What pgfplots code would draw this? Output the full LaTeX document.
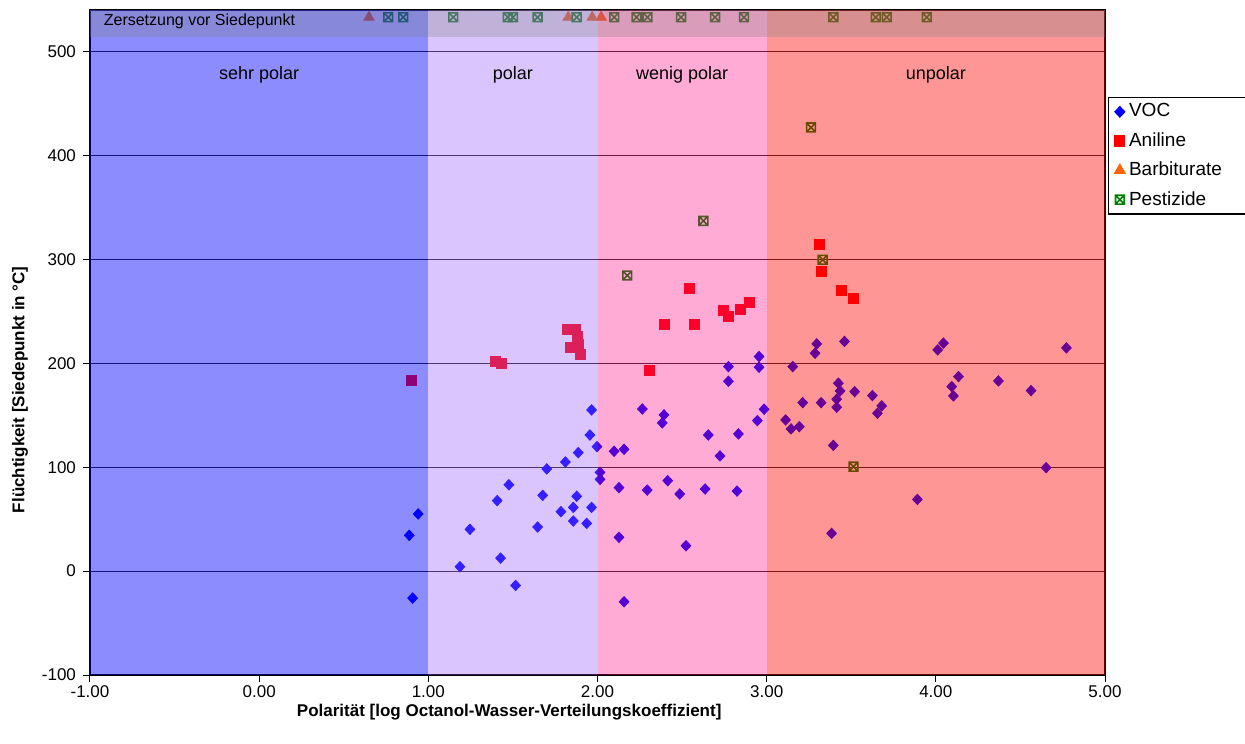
\documentclass[border=0pt]{standalone}
\usepackage{fontspec}
\setmainfont{Liberation Sans}
\usepackage{pgfplots}
\pgfplotsset{compat=1.18}

\definecolor{voc}{RGB}{0,0,255}
\definecolor{anil}{RGB}{255,0,0}
\definecolor{barb}{RGB}{255,102,0}
\definecolor{pest}{RGB}{0,128,0}
\definecolor{zsp}{RGB}{0,0,255}
\definecolor{zp}{RGB}{150,90,255}
\definecolor{zwp}{RGB}{255,0,128}
\definecolor{zup}{RGB}{255,0,0}

% square with a cross, like the Excel marker
\pgfdeclareplotmark{boxx}{%
  \pgfpathrectangle{\pgfpoint{-\pgfplotmarksize}{-\pgfplotmarksize}}{\pgfpoint{2\pgfplotmarksize}{2\pgfplotmarksize}}%
  \pgfpathmoveto{\pgfpoint{-\pgfplotmarksize}{-\pgfplotmarksize}}%
  \pgfpathlineto{\pgfpoint{\pgfplotmarksize}{\pgfplotmarksize}}%
  \pgfpathmoveto{\pgfpoint{-\pgfplotmarksize}{\pgfplotmarksize}}%
  \pgfpathlineto{\pgfpoint{\pgfplotmarksize}{-\pgfplotmarksize}}%
  \pgfusepathqstroke}

\begin{document}
\begin{tikzpicture}
\path[use as bounding box] (-45pt,-34pt) rectangle (577.5pt,337.5pt);
\begin{axis}[
  scale only axis,
  width=507.5pt, height=332.5pt,
  xmin=-1, xmax=5, ymin=-100, ymax=540,
  clip marker paths=true,
  xtick={-1,0,...,5},
  xticklabels={-1.00,0.00,1.00,2.00,3.00,4.00,5.00},
  ytick={-100,0,...,500},
  yticklabels={-100,0,100,200,300,400,500},
  tick align=outside,
  xtick pos=bottom, ytick pos=left,
  major tick length=3.5pt,
  ymajorgrids,
  grid style={black!85, line width=0.5pt},
  axis line style={black, line width=0.6pt},
  tick style={black, line width=0.5pt},
  ticklabel style={font=\fontsize{8.5}{10}\selectfont},
  xticklabel style={yshift=1.5pt},
  xlabel={Polarität [log Octanol-Wasser-Verteilungskoeffizient]},
  ylabel={Flüchtigkeit [Siedepunkt in °C]},
  label style={font=\bfseries\fontsize{8.5}{10}\selectfont},
  xlabel style={at={(axis description cs:0.413,-0.0556)}, anchor=center},
  ylabel style={at={(axis description cs:-0.069,0.429)}, anchor=center},
  legend style={at={(1.003,0.869)}, anchor=north west,
    font=\fontsize{9.5}{11}\selectfont, draw=black, line width=0.6pt,
    row sep=2.3pt, inner xsep=3pt, inner ysep=1pt,
    cells={anchor=west, text width=62pt}},
  legend cell align=left,
]
% VOC
\addplot[only marks, mark=diamond*, mark size=2.6pt, mark options={draw=voc, fill=voc, xscale=1.25}] coordinates {
(0.887,34.4) (0.94,55) (0.907,-26) (1.187,4.2) (1.246,40.2) (1.407,67.8)
(1.427,12.5) (1.476,83.1) (1.516,-13.8) (1.646,42.4) (1.676,72.9) (1.70,98.3)
(1.784,57.2) (1.81,105) (1.857,48.2) (1.857,61.3) (1.877,72) (1.886,114)
(1.936,45.9) (1.955,131) (1.965,155.1) (1.965,61.3) (1.997,119.8) (2.015,95)
(2.015,88.3) (2.098,115.3) (2.127,80.3) (2.127,32.5) (2.157,117.2) (2.157,-29.5)
(2.265,156) (2.294,78) (2.383,142.6) (2.393,150.3) (2.415,87) (2.486,74.2)
(2.523,24.4) (2.636,79) (2.655,131) (2.724,110.8) (2.774,196.8) (2.774,182.7)
(2.825,77) (2.833,132) (2.945,144.8) (2.955,206.5) (2.955,196.2) (2.985,155.8)
(3.112,145.5) (3.144,136.8) (3.154,196.8) (3.193,139) (3.213,162.1) (3.286,209.7)
(3.296,218.7) (3.322,162.1) (3.384,36.3) (3.394,121) (3.414,165.4) (3.414,157.7)
(3.424,180.8) (3.434,173.4) (3.46,221) (3.52,172.7) (3.625,168.9) (3.655,151.9)
(3.68,159) (3.891,69) (4.011,212.9) (4.045,219.4) (4.094,177.6) (4.104,168.6)
(4.134,187.2) (4.37,183) (4.563,173.7) (4.652,99.5) (4.772,214.8)
};
\addlegendentry{VOC}
% Aniline
\addplot[only marks, mark=square*, mark size=2.5pt, mark options={draw=anil, fill=anil}] coordinates {
(0.897,184) (1.394,201.6) (1.429,200) (1.823,232.2) (1.871,232.2) (1.88,226)
(1.837,215) (1.886,217.7) (1.896,209) (2.304,193) (2.395,237.7) (2.543,271.7)
(2.572,237) (2.746,250.8) (2.774,245) (2.843,252) (2.896,258.9) (3.312,314.7)
(3.322,288.4) (3.44,269.7) (3.513,262.5)
};
\addlegendentry{Aniline}
% Barbiturate
\addplot[only marks, mark=triangle*, mark size=3pt, mark options={draw=barb, fill=barb}] coordinates {
(0.649,533) (1.827,533) (1.969,533) (2.022,533)
};
\addlegendentry{Barbiturate}
% Pestizide
\addplot[only marks, mark=boxx, mark size=2.2pt, mark options={draw=pest, line width=0.8pt}] coordinates {
(0.763,533) (0.852,533) (1.147,533) (1.47,533) (1.50,533) (1.646,533)
(1.877,533) (2.099,533) (2.231,533) (2.295,533) (2.494,533) (2.695,533)
(2.866,533) (3.394,533) (3.645,533) (3.710,533) (3.946,533)
(2.176,284.5) (2.626,337) (3.262,427) (3.331,299.6) (3.513,100.5)
};
\addlegendentry{Pestizide}
% polarity bands, laid over the points as in the original
\addplot[draw=none, fill=zsp, fill opacity=0.45, forget plot] coordinates {(-1,-100) (1,-100) (1,540) (-1,540)} -- cycle;
\addplot[draw=none, fill=zp, fill opacity=0.35, forget plot] coordinates {(1,-100) (2,-100) (2,540) (1,540)} -- cycle;
\addplot[draw=none, fill=zwp, fill opacity=0.33, forget plot] coordinates {(2,-100) (3,-100) (3,540) (2,540)} -- cycle;
\addplot[draw=none, fill=zup, fill opacity=0.41, forget plot] coordinates {(3,-100) (5,-100) (5,540) (3,540)} -- cycle;
% decomposition strip
\addplot[draw=none, fill=gray, fill opacity=0.3, forget plot] coordinates {(-1,514) (5,514) (5,540) (-1,540)} -- cycle;

\node[anchor=west, font=\fontsize{8}{9}\selectfont] at (axis cs:-0.96,529) {Zersetzung vor Siedepunkt};
\begin{scope}[every node/.style={font=\fontsize{9}{10}\selectfont}]
\node at (axis cs:0,478) {sehr polar};
\node at (axis cs:1.5,478) {polar};
\node at (axis cs:2.5,478) {wenig polar};
\node at (axis cs:4,478) {unpolar};
\end{scope}
\end{axis}
\end{tikzpicture}
\end{document}
